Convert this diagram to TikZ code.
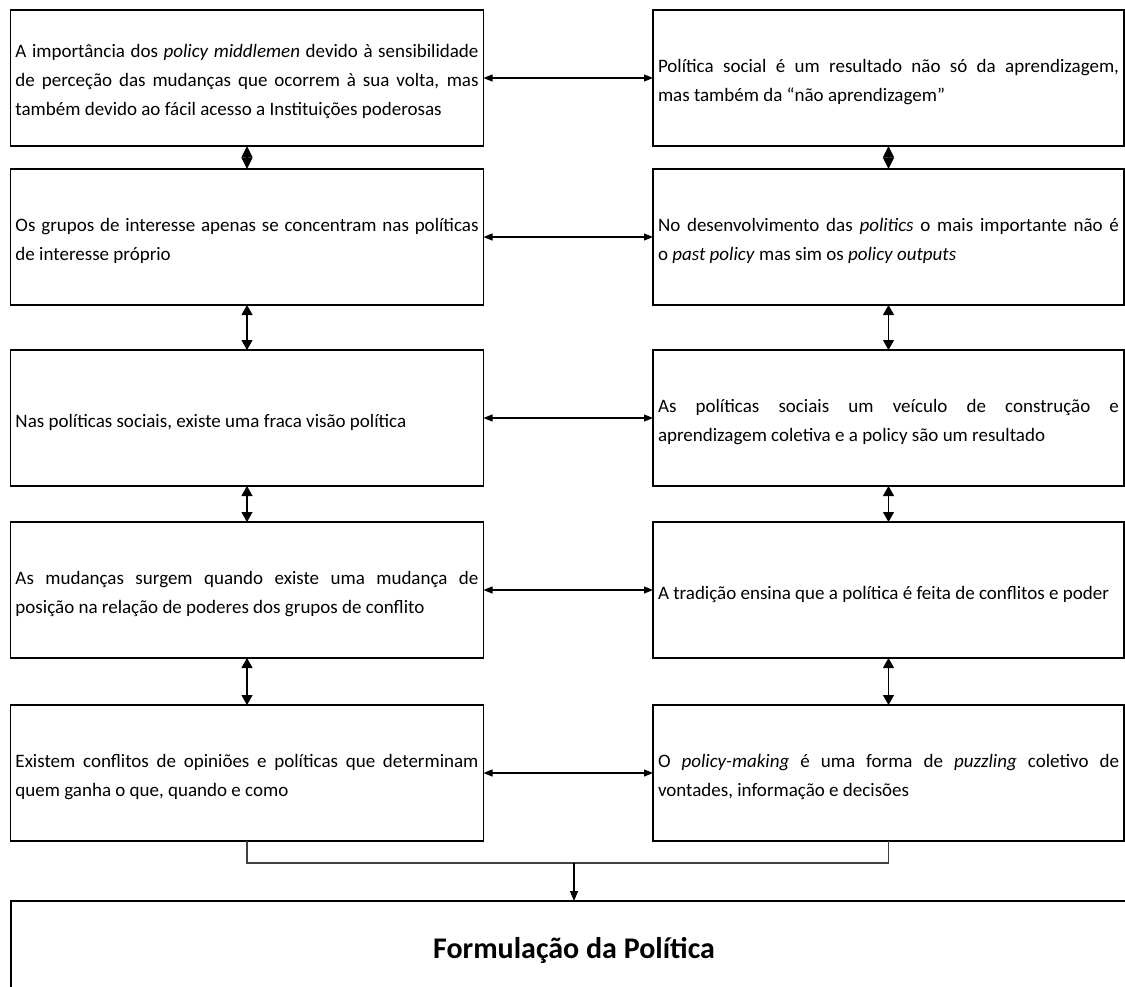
\documentclass[tikz,border=0pt]{standalone}
\usepackage{fontspec}
\setmainfont{Carlito}
\usetikzlibrary{arrows.meta}
\begin{document}
\begin{tikzpicture}[x=1pt,y=-1pt,
  frame/.style={draw, line width=1.1pt, rectangle, minimum height=136pt,
    inner sep=0pt, outer sep=0pt, anchor=north west},
  lbox/.style={frame, minimum width=473pt},
  rbox/.style={frame, minimum width=471pt},
  txt/.style={inner sep=0pt, align=justify, anchor=center,
    font=\fontsize{19}{29}\selectfont},
  ltxt/.style={txt, text width=463pt},
  rtxt/.style={txt, text width=461pt},
  harrow/.style={line width=1.1pt, {Triangle[length=9pt,width=7pt]}-{Triangle[length=9pt,width=7pt]}},
  varrow/.style={line width=1.1pt, {Triangle[length=10pt,width=11pt]}-{Triangle[length=10pt,width=11pt]}},
  darrow/.style={line width=1.1pt, {Triangle[length=11.5pt,width=11pt]}-{Triangle[length=11.5pt,width=11pt]}},
  conn/.style={line width=1.1pt, draw=black!75},
  final/.style={draw, line width=1.1pt, rectangle, minimum width=1126pt, minimum height=98pt,
    outer sep=0pt, anchor=north west, font=\fontsize{30}{36}\selectfont\bfseries}
]
\useasboundingbox (0,0) rectangle (1125,987);

% boxes
\node[lbox] (L1) at (10.5,10) {};
\node[rbox] (R1) at (653,10) {};
\node[lbox] (L2) at (10.5,169) {};
\node[rbox] (R2) at (653,169) {};
\node[lbox] (L3) at (10.5,350) {};
\node[rbox] (R3) at (653,350) {};
\node[lbox] (L4) at (10.5,522) {};
\node[rbox] (R4) at (653,522) {};
\node[lbox] (L5) at (10.5,705) {};
\node[rbox] (R5) at (653,705) {};
\node[final] (F) at (11,901) {Formulação da Política};

% texts
\node[ltxt] (L1t) at ([yshift=-4pt]L1.center) {A importância dos \textit{policy middlemen} devido à sensibilidade\linebreak de perceção das mudanças que ocorrem à sua volta, mas\linebreak também devido ao fácil acesso a Instituições poderosas};
\node[rtxt] (R1t) at ([yshift=-4pt]R1.center) {Política social é um resultado não só da aprendizagem,\linebreak mas também da “não aprendizagem”};
\node[ltxt] (L2t) at ([yshift=-4pt]L2.center) {Os grupos de interesse apenas se concentram nas políticas\linebreak de interesse próprio};
\node[rtxt] (R2t) at ([yshift=-4pt]R2.center) {No desenvolvimento das \textit{politics} o mais importante não é\linebreak o \textit{past policy} mas sim os \textit{policy outputs}};
\node[ltxt] (L3t) at ([yshift=-4pt]L3.center) {Nas políticas sociais, existe uma fraca visão política};
\node[rtxt] (R3t) at ([yshift=-4pt]R3.center) {As políticas sociais um veículo de construção e\linebreak aprendizagem coletiva e a policy são um resultado};
\node[ltxt] (L4t) at ([yshift=-4pt]L4.center) {As mudanças surgem quando existe uma mudança de\linebreak posição na relação de poderes dos grupos de conflito};
\node[rtxt] (R4t) at ([yshift=-4pt]R4.center) {\parfillskip=0pt A tradição ensina que a política é feita de conflitos e poder};
\node[ltxt] (L5t) at ([yshift=-4pt]L5.center) {Existem conflitos de opiniões e políticas que determinam\linebreak quem ganha o que, quando e como};
\node[rtxt] (R5t) at ([yshift=-4pt]R5.center) {O \textit{policy-making} é uma forma de \textit{puzzling} coletivo de\linebreak vontades, informação e decisões};

% connectors
\foreach \i in {1,...,5} {
  \draw[harrow] (L\i.east) -- (R\i.west);
}
\draw[darrow] (L1.south) -- (L2.north);
\draw[darrow] (R1.south) -- (R2.north);
\foreach \a/\b in {2/3,3/4,4/5} {
  \draw[varrow] (L\a.south) -- (L\b.north);
  \draw[varrow] (R\a.south) -- (R\b.north);
}
\coordinate (j) at (574,863);
\draw[conn] (L5.south) |- (j) -| (R5.south);
\draw[line width=1.1pt, -{Triangle[length=10pt,width=8pt]}] (j) -- (F.north);
\end{tikzpicture}
\end{document}
